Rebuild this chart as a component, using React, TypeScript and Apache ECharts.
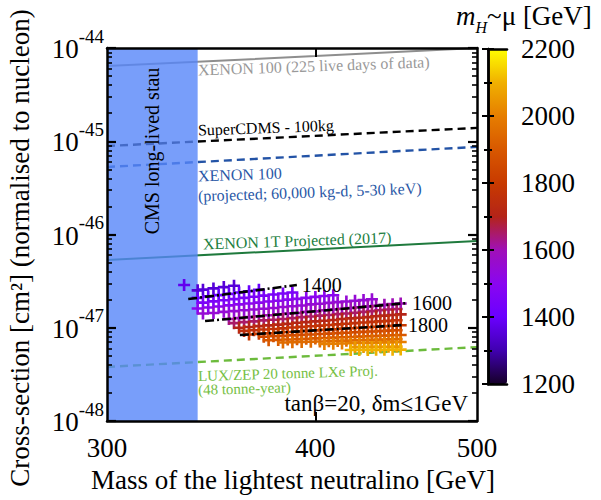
import { useEffect, useRef } from "react";
import * as echarts from "echarts";

const FONT = '"Liberation Serif", "Times New Roman", "DejaVu Serif", serif';

// ---- axes ----
const massRange = [300, 500];
const massLabelTicks = [300, 400, 500];
const massInnerTicks = [400];
// cross-sections are plotted in units of 1e-48 cm^2
const SIGMA_UNIT = 1e-48;
const SIGMA_UNIT_EXP = -48;
const sigmaRange = [1, 1e4];
const sigmaDecadeTicks = [1, 10, 100, 1000, 10000];
const sigmaMinorTicks = [
  2, 3, 4, 5, 6, 7, 8, 9,
  20, 30, 40, 50, 60, 70, 80, 90,
  200, 300, 400, 500, 600, 700, 800, 900,
  2000, 3000, 4000, 5000, 6000, 7000, 8000, 9000,
];
const mHRange = [1200, 2200];
const mHColors = [
  "#160028", "#4000b0", "#6a00ff", "#8a06f0", "#a010b8", "#b42418",
  "#c83a00", "#d85800", "#e67e00", "#f0b000", "#ffff00",
];

// ---- experimental limits (cm^2) ----
const xenon100Data = [[300, 6.4e-45], [400, 8.2e-45], [500, 1.0e-44]];
const superCDMS = [[300, 8.9e-46], [500, 1.39e-45]];
const xenon100Proj = [[300, 5.3e-46], [500, 8.7e-46]];
const xenon1T = [[300, 5.33e-47], [500, 8.5e-47]];
const luxZep = [[300, 3.8e-48], [500, 6.2e-48]];
const cmsStauExcludedMass = [300, 340];

// ---- mH iso-contours (cm^2) ----
const contour1400 = [[335.6, 2.03e-47], [389.9, 2.87e-47]];
const contour1600 = [[343.5, 1.18e-47], [453.9, 1.84e-47]];
const contour1800 = [[360.4, 8.36e-48], [451.4, 1.07e-47]];

// ---- scan points: [mass GeV, sigma in units of 1e-47 cm^2], grouped by mH ----
const SCAN_UNIT = 1e-47;
const scan1380 = [[333.7, 2.87]];
const scan1350 = [[340, 2.52], [342.5, 2.56], [347.5, 2.64], [352.5, 2.73], [357.5, 2.82]];
const scan1400 = [[340, 2.09], [345, 2.17], [350, 2.24], [355, 2.31], [360, 2.39], [365, 2.46], [370, 2.55]];
const scan1450 = [[342.5, 1.86], [347.5, 1.92], [352.5, 1.97], [357.5, 2.03], [362.5, 2.09], [367.5, 2.15], [372.5, 2.21], [377.5, 2.27], [382.5, 2.33], [387.5, 2.39]];
const scan1500 = [[340, 1.61], [345, 1.65], [350, 1.69], [355, 1.74], [360, 1.78], [365, 1.82], [370, 1.86], [375, 1.91], [380, 1.95], [385, 2.0], [390, 2.04], [395, 2.09], [400, 2.14], [405, 2.19], [410, 2.23]];
const scan1550 = [[342.5, 1.42], [347.5, 1.44], [352.5, 1.48], [357.5, 1.51], [362.5, 1.54], [367.5, 1.57], [372.5, 1.6], [377.5, 1.63], [382.5, 1.67], [387.5, 1.7], [392.5, 1.73], [397.5, 1.78], [402.5, 1.81], [407.5, 1.85], [412.5, 1.88], [417.5, 1.91], [422.5, 1.95], [427.5, 1.98], [432.5, 2.02]];
const scan1600 = [[355, 1.24], [360, 1.27], [365, 1.3], [370, 1.33], [375, 1.36], [380, 1.39], [385, 1.42], [390, 1.44], [395, 1.48], [400, 1.5], [405, 1.54], [410, 1.57], [415, 1.6], [420, 1.63], [425, 1.66], [430, 1.69], [435, 1.72], [440, 1.76], [445, 1.79], [450, 1.82]];
const scan1650 = [[357.5, 1.12], [362.5, 1.15], [367.5, 1.17], [372.5, 1.2], [377.5, 1.22], [382.5, 1.24], [387.5, 1.27], [392.5, 1.3], [397.5, 1.32], [402.5, 1.35], [407.5, 1.37], [412.5, 1.4], [417.5, 1.42], [422.5, 1.45], [427.5, 1.48], [432.5, 1.51], [437.5, 1.54], [442.5, 1.57], [447.5, 1.59]];
const scan1700 = [[360, 1.0], [365, 1.02], [370, 1.04], [375, 1.06], [380, 1.08], [385, 1.1], [390, 1.13], [395, 1.15], [400, 1.17], [405, 1.19], [410, 1.21], [415, 1.24], [420, 1.26], [425, 1.28], [430, 1.3], [435, 1.33], [440, 1.35], [445, 1.37], [450, 1.39]];
const scan1750 = [[362.5, 0.925], [367.5, 0.94], [372.5, 0.957], [377.5, 0.97], [382.5, 0.985], [387.5, 1.006], [392.5, 1.021], [397.5, 1.039], [402.5, 1.054], [407.5, 1.07], [412.5, 1.086], [417.5, 1.105], [422.5, 1.12], [427.5, 1.138], [432.5, 1.155], [437.5, 1.17], [442.5, 1.187], [447.5, 1.205]];
const scan1800 = [[365, 0.847], [370, 0.86], [375, 0.871], [380, 0.884], [385, 0.9], [390, 0.911], [395, 0.925], [400, 0.936], [405, 0.95], [410, 0.962], [415, 0.977], [420, 0.988], [425, 1.0], [430, 1.013], [435, 1.025], [440, 1.037], [445, 1.05], [450, 1.063]];
const scan1850 = [[372.5, 0.8], [377.5, 0.81], [382.5, 0.818], [387.5, 0.828], [392.5, 0.838], [397.5, 0.846], [402.5, 0.857], [407.5, 0.865], [412.5, 0.875], [417.5, 0.884], [422.5, 0.895], [427.5, 0.904], [432.5, 0.912], [437.5, 0.921], [442.5, 0.93], [447.5, 0.94]];
const scan1900 = [[375, 0.734], [380, 0.741], [385, 0.748], [390, 0.755], [395, 0.763], [400, 0.768], [405, 0.776], [410, 0.783], [415, 0.79], [420, 0.796], [425, 0.803], [430, 0.81], [435, 0.816], [440, 0.824], [445, 0.83], [450, 0.837]];
const scan1950 = [[382.5, 0.694], [387.5, 0.7], [392.5, 0.705], [397.5, 0.708], [402.5, 0.713], [407.5, 0.718], [412.5, 0.722], [417.5, 0.727], [422.5, 0.732], [427.5, 0.736], [432.5, 0.741], [437.5, 0.745], [442.5, 0.75], [447.5, 0.755]];
const scan2000 = [[405, 0.671], [410, 0.674], [415, 0.677], [420, 0.682], [425, 0.686], [430, 0.689], [435, 0.692], [440, 0.696], [445, 0.7], [450, 0.703]];
const scan2050 = [[422.5, 0.62], [427.5, 0.622], [432.5, 0.623], [437.5, 0.625], [442.5, 0.626], [447.5, 0.628]];
const scan2100 = [[420, 0.577], [425, 0.578], [430, 0.579], [435, 0.58], [440, 0.581], [445, 0.582], [450, 0.583]];

const scanLevels = [1380, 1350, 1400, 1450, 1500, 1550, 1600, 1650, 1700, 1750, 1800, 1850, 1900, 1950, 2000, 2050, 2100];
const scanRows = [scan1380, scan1350, scan1400, scan1450, scan1500, scan1550, scan1600, scan1650, scan1700, scan1750, scan1800, scan1850, scan1900, scan1950, scan2000, scan2050, scan2100];

const PLUS = "path://M3.9,0h2.2v3.9h3.9v2.2h-3.9v3.9h-2.2v-3.9h-3.9v-2.2h3.9z";

const toUnit = (pts: number[][]) => pts.map(([m, s]) => [m, s / SIGMA_UNIT]);

const staticText = (x: number, y: number, text: string, fill: string, fontSize: number, extra: any = {}) => ({
  type: "text", x, y, z: 20, silent: true, ...extra,
  style: { text, fill, fontSize, fontFamily: FONT, align: "left", verticalAlign: "middle", ...(extra.style || {}) },
});

export default function App() {
  const ref = useRef<HTMLDivElement>(null);

  useEffect(() => {
    if (!ref.current) return;
    const chart = echarts.init(ref.current, null, { renderer: "svg" });

    const scanData: number[][] = [];
    scanRows.forEach((row, i) => {
      row.forEach(([m, s]) => scanData.push([m, (s * SCAN_UNIT) / SIGMA_UNIT, scanLevels[i]]));
    });

    const refLine = (data: number[][], color: string, width: number, type: any) => ({
      type: "line",
      data: toUnit(data),
      xAxisIndex: 0,
      yAxisIndex: 0,
      symbol: "none",
      silent: true,
      z: 2,
      lineStyle: { color, width, type },
    });

    const contour = (data: number[][], level: number) => ({
      type: "line",
      data: toUnit(data),
      xAxisIndex: 0,
      yAxisIndex: 0,
      symbol: "none",
      silent: true,
      z: 6,
      lineStyle: { color: "#000", width: 2.6, type: [9, 3, 2, 3] },
      endLabel: {
        show: true,
        formatter: String(level),
        distance: 5,
        color: "#000",
        fontSize: 20,
        fontFamily: FONT,
      },
    });

    const axisBlack = { color: "#000", width: 2.5 };
    const logY = (position: string) => ({
      type: "log", gridIndex: 0, position, min: sigmaRange[0], max: sigmaRange[1], z: 10,
      splitLine: { show: false },
      axisLabel: { show: false },
    });

    const option: any = {
      animation: false,
      backgroundColor: "#fff",
      grid: [
        { left: 107, right: 124, top: 48, bottom: 79, show: false },
        { left: 488, top: 49, width: 19, height: 335, show: false },
      ],
      xAxis: [
        {
          type: "log", gridIndex: 0, position: "bottom", min: massRange[0], max: massRange[1], z: 10,
          axisLine: { show: true, lineStyle: axisBlack },
          axisTick: { show: true, inside: true, length: 9, customValues: massInnerTicks, lineStyle: { color: "#000", width: 2 } },
          axisLabel: { customValues: massLabelTicks, formatter: (v: number) => String(Math.round(v)), fontSize: 27, fontFamily: FONT, color: "#000", margin: 13 },
          splitLine: { show: false },
        },
        {
          type: "log", gridIndex: 0, position: "top", min: massRange[0], max: massRange[1], z: 10,
          axisLine: { show: true, lineStyle: axisBlack },
          axisTick: { show: true, inside: true, length: 9, customValues: massInnerTicks, lineStyle: { color: "#000", width: 2 } },
          axisLabel: { show: false },
          splitLine: { show: false },
        },
        {
          type: "value", gridIndex: 1, position: "bottom", min: 0, max: 1, z: 10,
          axisLine: { show: true, lineStyle: { color: "#000", width: 2.5 } },
          axisTick: { show: false }, axisLabel: { show: false }, splitLine: { show: false },
        },
        {
          type: "value", gridIndex: 1, position: "top", min: 0, max: 1, z: 10,
          axisLine: { show: true, lineStyle: { color: "#000", width: 2.5 } },
          axisTick: { show: false }, axisLabel: { show: false }, splitLine: { show: false },
        },
      ],
      yAxis: [
        {
          ...logY("left"),
          axisLine: { show: true, lineStyle: axisBlack },
          axisTick: { show: true, inside: true, length: 9, customValues: sigmaDecadeTicks, lineStyle: { color: "#000", width: 2.2 } },
        },
        {
          ...logY("right"),
          axisLine: { show: true, lineStyle: axisBlack },
          axisTick: { show: true, inside: true, length: 9, customValues: sigmaDecadeTicks, lineStyle: { color: "#000", width: 2.2 } },
        },
        {
          ...logY("left"),
          axisLine: { show: false },
          axisTick: { show: true, inside: true, length: 5, customValues: sigmaMinorTicks, lineStyle: { color: "#000", width: 1.6 } },
        },
        {
          ...logY("right"),
          axisLine: { show: false },
          axisTick: { show: true, inside: true, length: 5, customValues: sigmaMinorTicks, lineStyle: { color: "#000", width: 1.6 } },
        },
        {
          type: "value", gridIndex: 1, position: "right", min: mHRange[0], max: mHRange[1], interval: 200, z: 10,
          axisLine: { show: true, lineStyle: { color: "#000", width: 2.5 } },
          axisTick: { show: true, inside: true, length: 6, lineStyle: { color: "#000", width: 2 } },
          minorTick: { show: true, splitNumber: 2, length: 4, lineStyle: { color: "#000", width: 2 } },
          axisLabel: { fontSize: 27, fontFamily: FONT, color: "#000", margin: 14, formatter: (v: number) => String(v) },
          splitLine: { show: false },
        },
        {
          type: "value", gridIndex: 1, position: "left", min: mHRange[0], max: mHRange[1], interval: 200, z: 10,
          axisLine: { show: true, lineStyle: { color: "#000", width: 2.5 } },
          axisTick: { show: true, inside: true, length: 6, lineStyle: { color: "#000", width: 2 } },
          minorTick: { show: true, splitNumber: 2, length: 4, lineStyle: { color: "#000", width: 2 } },
          axisLabel: { show: false },
          splitLine: { show: false },
        },
      ],
      visualMap: {
        type: "continuous",
        min: mHRange[0],
        max: mHRange[1],
        dimension: 2,
        seriesIndex: 6,
        orient: "vertical",
        left: 488,
        top: 49,
        itemWidth: 19,
        itemHeight: 335,
        padding: 0,
        calculable: false,
        hoverLink: false,
        inRange: { color: mHColors },
      },
      series: [
        {
          type: "custom",
          data: [cmsStauExcludedMass],
          xAxisIndex: 0,
          yAxisIndex: 0,
          silent: true,
          z: 3,
          encode: { x: [0, 1] },
          renderItem: (_params: any, api: any) => {
            const p0 = api.coord([api.value(0), sigmaRange[1]]);
            const p1 = api.coord([api.value(1), sigmaRange[0]]);
            return {
              type: "rect",
              shape: { x: p0[0], y: p0[1], width: p1[0] - p0[0], height: p1[1] - p0[1] },
              style: { fill: "rgba(86,134,249,0.8)" },
            };
          },
        },
        refLine(xenon100Data, "#8e8e8e", 2, "solid"),
        refLine(superCDMS, "#000", 2.4, [8, 5]),
        refLine(xenon100Proj, "#2353a6", 2.4, [8, 5]),
        refLine(xenon1T, "#1f7a3d", 2, "solid"),
        refLine(luxZep, "#6cbb3c", 2.4, [8, 5]),
        {
          type: "scatter",
          data: scanData,
          xAxisIndex: 0,
          yAxisIndex: 0,
          symbol: PLUS,
          symbolSize: 12,
          silent: true,
          z: 5,
          itemStyle: { opacity: 1 },
        },
        contour(contour1400, 1400),
        contour(contour1600, 1600),
        contour(contour1800, 1800),
      ],
    };

    chart.setOption(option);

    // y tick labels 10^n, placed at the axis' own pixel positions
    const yLabels = sigmaDecadeTicks.map((v) => {
      const py = chart.convertToPixel({ yAxisIndex: 0 }, v) as number;
      const exp = Math.round(Math.log10(v)) + SIGMA_UNIT_EXP;
      return {
        type: "text", x: 104, y: py - 21.5, z: 20, silent: true,
        style: {
          text: `{b|10}{e|${exp}}`,
          align: "right",
          verticalAlign: "top",
          rich: {
            b: { fontSize: 27, fontFamily: FONT, fill: "#000", lineHeight: 27, padding: [9, 0, 0, 0], verticalAlign: "top" },
            e: { fontSize: 19, fontFamily: FONT, fill: "#000", lineHeight: 19, verticalAlign: "top" },
          },
        },
      };
    });

    chart.setOption({
      graphic: [
        ...yLabels,
        staticText(198, 70, "XENON 100 (225 live days of data)", "#999", 16, { rotation: 0.035 }),
        staticText(198, 130, "SuperCDMS - 100kg", "#000", 16, { rotation: 0.035 }),
        staticText(198, 176, "XENON 100", "#2a58a6", 16, { rotation: 0.035 }),
        staticText(198, 196, "(projected; 60,000 kg-d, 5-30 keV)", "#2a58a6", 16, { rotation: 0.035 }),
        staticText(203, 244, "XENON 1T Projected (2017)", "#22803f", 16, { rotation: 0.035 }),
        staticText(198, 376, "LUX/ZEP 20 tonne LXe Proj.", "#76c044", 15, { rotation: 0.03 }),
        staticText(198, 390, "(48 tonne-year)", "#76c044", 15, { rotation: 0.03 }),
        staticText(468, 403, "tanβ=20, δm≤1GeV", "#000", 23, { style: { align: "right" } }),
        staticText(152, 151, "CMS long-lived stau", "#000", 20, { rotation: Math.PI / 2, style: { align: "center" } }),
        staticText(293, 480, "Mass of the lightest neutralino [GeV]", "#000", 27, { style: { align: "center" } }),
        staticText(20, 248, "Cross-section [cm²] (normalised to nucleon)", "#000", 27, { rotation: Math.PI / 2, style: { align: "center" } }),
        {
          type: "text", x: 456, y: 2, z: 20, silent: true,
          style: {
            text: "{i|m}{s|H}{n|~μ [GeV]}",
            align: "left",
            verticalAlign: "top",
            rich: {
              i: { fontSize: 27, fontFamily: FONT, fontStyle: "italic", fill: "#000", lineHeight: 27, verticalAlign: "top" },
              s: { fontSize: 16, fontFamily: FONT, fontStyle: "italic", fill: "#000", lineHeight: 16, padding: [17, 0, 0, 0], verticalAlign: "top" },
              n: { fontSize: 27, fontFamily: FONT, fill: "#000", lineHeight: 27, verticalAlign: "top" },
            },
          },
        },
      ],
    });

    return () => chart.dispose();
  }, []);

  return (
    <div
      ref={ref}
      style={{ position: "fixed", left: 0, top: 0, width: 601, height: 500, background: "#fff" }}
    />
  );
}
